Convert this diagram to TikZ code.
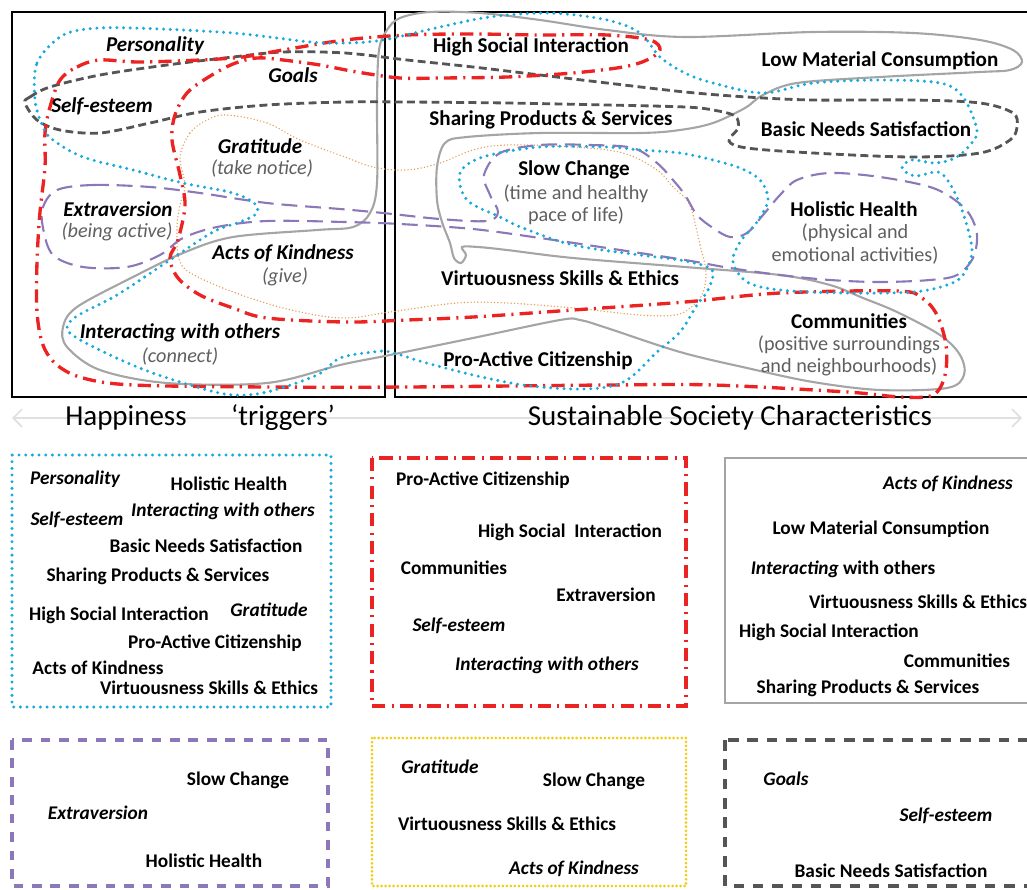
\documentclass[tikz,border=0pt]{standalone}
\usepackage{fontspec}
\setmainfont{Carlito}
\usepackage{xcolor}
\definecolor{trigcyan}{RGB}{25,170,220}
\definecolor{trigred}{RGB}{235,35,35}
\definecolor{softgray}{RGB}{165,165,165}
\definecolor{darkdash}{RGB}{85,85,85}
\definecolor{lilac}{RGB}{140,120,185}
\definecolor{peach}{RGB}{230,160,90}
\definecolor{goldline}{RGB}{240,205,20}
\definecolor{subtext}{RGB}{95,95,95}
\usepackage{tikz}
\usetikzlibrary{positioning}
\usetikzlibrary{arrows.meta}

\begin{document}
\begin{tikzpicture}[x=0.02cm,y=-0.02cm,every node/.style={inner sep=1,outer sep=1,font=\fontsize{12}{14}\selectfont\bfseries},
	trig/.style={font=\fontsize{12}{14}\selectfont\bfseries\itshape},
	sub/.style={text=subtext,align=center,font=\fontsize{11.5}{12.6}\selectfont},
	subit/.style={text=subtext,font=\fontsize{11.5}{12.6}\selectfont\itshape},
	head/.style={font=\fontsize{16.5}{18}\selectfont},
	lbl/.style={font=\fontsize{11}{13}\selectfont\bfseries},
	lblit/.style={font=\fontsize{11}{13}\selectfont\bfseries\itshape},
	frame/.style={line width=1.7pt},
	cyanset/.style={trigcyan,line width=1.9pt,dash pattern=on 0pt off 3.8pt,line cap=round},
	redset/.style={trigred,line width=1.9pt,dash pattern=on 7.5pt off 3.5pt on 1.2pt off 3.5pt},
	grayset/.style={softgray,line width=1.2pt},
	darkset/.style={darkdash,line width=1.6pt,dash pattern=on 4.5pt off 2.5pt},
	lilacset/.style={lilac,line width=1.2pt,dash pattern=on 9pt off 4.5pt},
	peachset/.style={peach,line width=0.9pt,dash pattern=on 0pt off 1.9pt,line cap=round}]
	\useasboundingbox (0,0) rectangle (1027,889);
	\clip (0,0) rectangle (1027,889);
	% top frames
	\draw[frame] (12,12) rectangle (385,397);
	\draw[frame] (395,12) rectangle (1040,397);
	% happiness sets
	\draw[peachset] plot[smooth cycle,tension=0.6] coordinates {(180,157) (190,133) (207,120) (227,115) (267,123) (300,140) (345,157) (373,167) (407,170) (440,163) (473,150) (507,145) (573,147) (623,153) (657,170) (673,187) (687,200) (693,215) (700,245) (706,272) (702,295) (690,308) (675,315) (640,315) (573,308) (507,303) (457,303) (390,312) (345,318) (300,312) (250,298) (200,278) (180,262) (177,228) (180,205) (185,185)};
	\draw[grayset] plot[smooth cycle,tension=0.55] coordinates {(377,100) (379,50) (387,30) (400,18) (430,12) (480,13) (540,20) (607,30) (685,37) (813,32) (913,33) (980,40) (1013,50) (1022,62) (1010,70) (980,72) (880,77) (797,83) (763,95) (745,108) (713,123) (680,130) (640,133) (540,133) (467,137) (445,143) (437,167) (437,200) (442,222) (450,243) (454,258) (461,263) (466,255) (462,247) (478,247) (507,250) (573,258) (685,267) (780,275) (830,285) (863,298) (897,312) (940,335) (960,355) (964,375) (947,388) (880,390) (813,382) (747,368) (680,352) (607,328) (580,320) (560,320) (473,338) (390,355) (340,365) (267,383) (167,383) (100,370) (67,347) (63,327) (77,307) (133,277) (183,253) (233,237) (317,230) (353,227) (370,213) (377,183)};
	\draw[lilacset] plot[smooth cycle,tension=0.55] coordinates {(57,190) (93,185) (150,187) (200,193) (267,203) (340,209) (383,213) (440,219) (487,221) (498,212) (490,195) (484,175) (500,153) (540,145) (590,145) (633,148) (657,163) (673,180) (685,195) (697,215) (713,228) (730,237) (747,233) (763,215) (780,195) (797,180) (830,173) (880,177) (930,187) (955,200) (970,215) (977,235) (973,258) (957,275) (930,280) (880,282) (830,280) (780,275) (730,268) (685,260) (607,248) (540,238) (473,229) (400,224) (345,222) (267,221) (217,227) (183,238) (160,255) (127,267) (83,267) (53,255) (43,228) (43,207)};
	\draw[darkset] plot[smooth cycle,tension=0.55] coordinates {(25,103) (30,97) (50,87) (100,75) (167,65) (233,57) (283,52) (345,53) (407,60) (473,67) (540,75) (607,83) (685,92) (747,97) (813,100) (913,100) (980,103) (1013,113) (1017,127) (1010,140) (980,153) (913,157) (813,153) (747,148) (729,141) (738,128) (735,116) (713,110) (685,107) (607,105) (507,103) (407,102) (345,102) (267,105) (200,112) (150,123) (100,133) (60,130) (37,120)};
	\draw[redset] plot[smooth cycle,tension=0.55] coordinates {(60,80) (77,67) (100,60) (143,62) (233,58) (283,50) (345,40) (407,35) (473,34) (540,35) (607,35) (650,40) (660,50) (647,60) (623,67) (573,73) (507,77) (440,78) (400,78) (357,72) (320,65) (283,60) (257,58) (233,64) (207,78) (187,93) (175,115) (172,140) (180,175) (185,205) (178,240) (170,258) (178,278) (200,295) (233,308) (267,318) (345,322) (407,320) (473,317) (573,310) (685,302) (780,293) (897,291) (922,298) (937,315) (946,345) (945,375) (933,395) (900,397) (847,392) (713,385) (607,385) (407,387) (267,387) (133,385) (83,378) (57,365) (43,345) (37,312) (37,262) (40,212) (45,167) (45,133) (50,107)};
	\draw[cyanset] plot[smooth cycle,tension=0.55] coordinates {(35,100) (37,63) (60,37) (87,29) (133,28) (233,33) (310,42) (345,43) (383,40) (440,27) (490,17) (550,13) (607,20) (640,33) (660,57) (685,73) (713,83) (763,93) (813,83) (880,80) (940,83) (963,97) (977,130) (970,145) (955,158) (935,163) (912,160) (902,168) (915,176) (938,172) (950,184) (962,210) (972,250) (963,275) (947,285) (913,292) (847,293) (780,290) (747,282) (733,262) (740,242) (757,222) (768,200) (760,180) (740,168) (713,160) (680,153) (640,150) (607,147) (540,147) (483,157) (460,173) (467,200) (500,217) (523,228) (573,245) (640,255) (685,261) (712,270) (708,290) (697,305) (680,332) (657,352) (630,378) (607,387) (573,389) (523,385) (473,375) (423,362) (390,352) (373,352) (340,358) (317,375) (267,392) (233,395) (200,388) (150,372) (110,355) (77,338) (67,328) (77,316) (117,295) (167,262) (213,232) (240,222) (256,214) (255,204) (233,193) (183,183) (133,170) (83,157) (53,140) (43,127)};
	% triggers
	\node[trig] (pers) at (155,46) {Personality};
	\node[trig] (goal) at (293,75) {Goals};
	\node[trig] (self) at (102,106) {Self-esteem};
	\node[trig] (grat) at (260,146) {Gratitude};
	\node[subit] (gratsub) at (262,169) {(take notice)};
	\node[trig] (extr) at (118,209) {Extraversion};
	\node[subit] (extrsub) at (117,232) {(being active)};
	\node[trig] (kind) at (283,253) {Acts of Kindness};
	\node[subit] (kindsub) at (285,277) {(give)};
	\node[trig] (inter) at (180,333) {Interacting with others};
	\node[subit] (intersub) at (180,357) {(connect)};
	% characteristics
	\node (social) at (531,47) {High Social Interaction};
	\node (lowmat) at (880,61) {Low Material Consumption};
	\node (share) at (551,120) {Sharing Products \& Services};
	\node (basic) at (866,129) {Basic Needs Satisfaction};
	\node (slow) at (574,170) {Slow Change};
	\node[sub] (slowsub) at (576,205) {(time and healthy\\pace of life)};
	\node (holi) at (854,209) {Holistic Health};
	\node[sub] (holisub) at (855,244) {(physical and\\emotional activities)};
	\node (virt) at (560,278) {Virtuousness Skills \& Ethics};
	\node (comm) at (849,321) {Communities};
	\node[sub] (commsub) at (849,356) {(positive surroundings\\and neighbourhoods)};
	\node (pro) at (538,361) {Pro-Active Citizenship};
	% axis
	\coordinate (axl) at (12,418);
	\coordinate (axr) at (1022,418);
	\draw[black!12,line width=1pt,{Straight Barb[length=5pt]}-{Straight Barb[length=5pt]}] (axl) -- (axr);
	\node[head] (hap) at (126,418) {Happiness};
	\node[head] (trg) at (283,418) {‘triggers’};
	\node[head] (ssc) at (730,418) {Sustainable Society Characteristics};
	% set boxes
	\draw[cyanset] (12,455) rectangle (331,707);
	\draw[redset] (372,458) rectangle (686,706);
	\draw[softgray,line width=1.3pt] (725,458) rectangle (1040,703);
	\draw[lilac,line width=1.8pt,dash pattern=on 5.5pt off 5pt] (12,740) rectangle (328,886);
	\draw[goldline,line width=1.7pt,dash pattern=on 0pt off 2.3pt,line cap=round] (372,738) rectangle (686,886);
	\draw[darkdash,line width=1.8pt,dash pattern=on 6pt off 5pt] (725,740) rectangle (1040,886);
	% cyan set
	\node[lblit] (c1) at (75,479) {Personality};
	\node[lbl] (c2) at (229,484) {Holistic Health};
	\node[lblit] (c3) at (223,511) {Interacting with others};
	\node[lblit] (c4) at (77,520) {Self-esteem};
	\node[lbl] (c5) at (206,546) {Basic Needs Satisfaction};
	\node[lbl] (c6) at (158,576) {Sharing Products \& Services};
	\node[lbl] (c7) at (119,615) {High Social Interaction};
	\node[lblit] (c8) at (269,610) {Gratitude};
	\node[lbl] (c9) at (215,643) {Pro-Active Citizenship};
	\node[lbl] (c10) at (98,668) {Acts of Kindness};
	\node[lbl] (c11) at (209,688) {Virtuousness Skills \& Ethics};
	% red set
	\node[lbl] (r1) at (483,480) {Pro-Active Citizenship};
	\node[lbl] (r2) at (570,532) {High Social\ \ Interaction};
	\node[lbl] (r3) at (454,568) {Communities};
	\node[lbl] (r4) at (606,595) {Extraversion};
	\node[lblit] (r5) at (459,626) {Self-esteem};
	\node[lblit] (r6) at (547,665) {Interacting with others};
	% gray set
	\node[lblit] (g1) at (948,484) {Acts of Kindness};
	\node[lbl] (g2) at (881,529) {Low Material Consumption};
	\node[lbl] (g3) at (843,569) {\textit{Interacting} with others};
	\node[lbl] (g4) at (918,602) {Virtuousness Skills \& Ethics};
	\node[lbl] (g5) at (829,632) {High Social Interaction};
	\node[lbl] (g6) at (957,661) {Communities};
	\node[lbl] (g7) at (868,688) {Sharing Products \& Services};
	% lilac set
	\node[lbl] (p1) at (238,780) {Slow Change};
	\node[lblit] (p2) at (98,813) {Extraversion};
	\node[lbl] (p3) at (204,861) {Holistic Health};
	% gold set
	\node[lblit] (y1) at (440,767) {Gratitude};
	\node[lbl] (y2) at (594,781) {Slow Change};
	\node[lbl] (y3) at (507,824) {Virtuousness Skills \& Ethics};
	\node[lblit] (y4) at (574,869) {Acts of Kindness};
	% dark set
	\node[lblit] (d1) at (786,779) {Goals};
	\node[lblit] (d2) at (946,816) {Self-esteem};
	\node[lbl] (d3) at (891,871) {Basic Needs Satisfaction};
\end{tikzpicture}
\end{document}
